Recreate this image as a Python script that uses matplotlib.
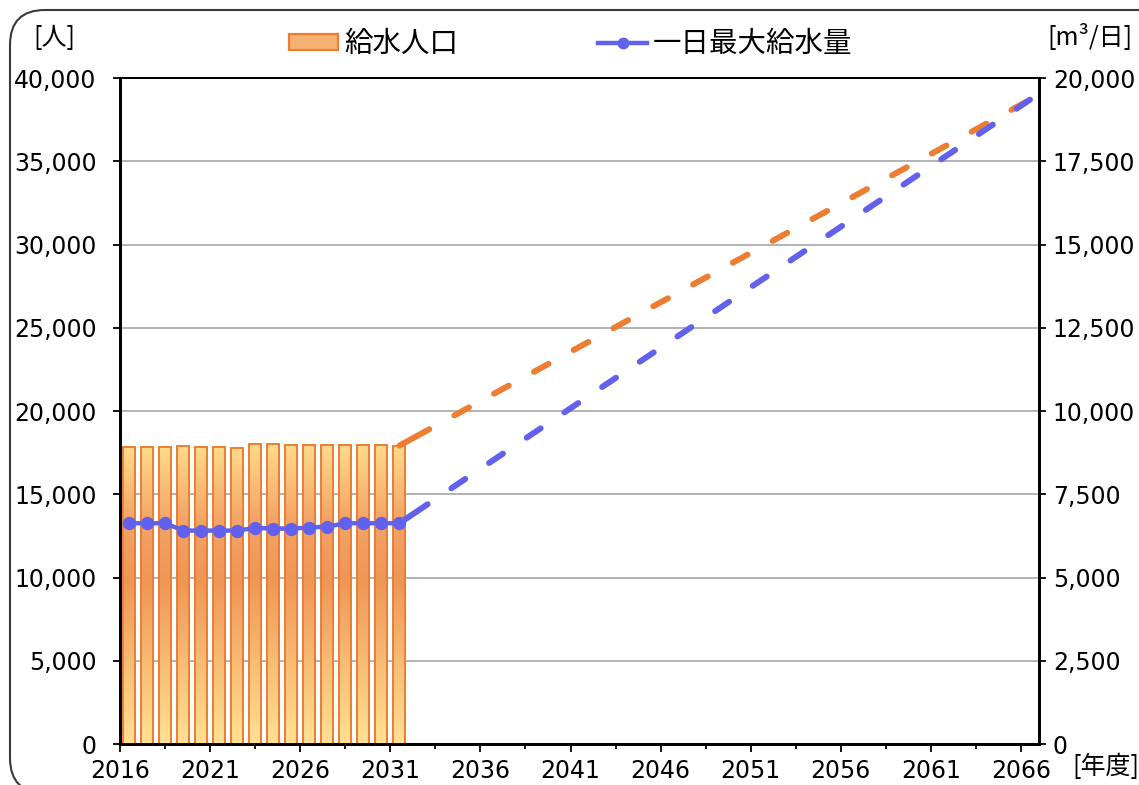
"""Water supply population and daily maximum supply chart."""

import numpy as np
import matplotlib

matplotlib.use("Agg")
import matplotlib.pyplot as plt
from matplotlib.colors import LinearSegmentedColormap
from matplotlib.patches import FancyBboxPatch, Patch
from matplotlib.lines import Line2D
from matplotlib.transforms import IdentityTransform

plt.rcParams["font.family"] = ["Noto Sans CJK JP", "DejaVu Sans"]
plt.rcParams["axes.unicode_minus"] = False

# data
years = list(range(2016, 2032))
population = [17840, 17820, 17820, 17900, 17860, 17860, 17800, 18040,
              18000, 17980, 17980, 17960, 17960, 17940, 17940, 17920]
max_water = [6630, 6630, 6630, 6410, 6410, 6410, 6410, 6490,
             6470, 6470, 6500, 6530, 6630, 6630, 6630, 6630]
proj_years = [2031, 2066]
proj_population = [17920, 38700]
proj_water = [6630, 19350]
label_years = list(range(2016, 2067, 5))
left_ticks = list(range(0, 40001, 5000))
right_ticks = list(range(0, 20001, 2500))

START = 2016
END = 2066
ORANGE = "#ED7D31"
BLUE = "#6161EE"
NUM_FONT = "DejaVu Sans"
# long first dash, then regular dashes (units of line width)
DASHES = [5.7, 4.8] + [2.8, 4.8] * 20


def xpos(yrs):
    return np.asarray(yrs) - START + 0.5


fig = plt.figure(figsize=(11.39, 7.85), dpi=100)
ax = fig.add_axes([0.1054, 0.0522, 0.8068, 0.8484])
ax2 = ax.twinx()

# bars with vertical gradient
cmap = LinearSegmentedColormap.from_list(
    "bar", [(0.0, "#FFE194"), (0.55, "#EF9655"), (0.75, "#F3A468"), (1.0, "#FFDB8C")]
)
grad = np.linspace(0, 1, 256).reshape(-1, 1)
bars = ax.bar(xpos(years), population, width=0.68, facecolor="none",
              edgecolor=ORANGE, linewidth=1.4, zorder=3)
for bar in bars:
    x0 = bar.get_x()
    w = bar.get_width()
    h = bar.get_height()
    im = ax.imshow(grad, extent=[x0, x0 + w, 0, h], origin="lower",
                   cmap=cmap, aspect="auto", zorder=2)
    im.set_clip_path(bar)

ax.plot(xpos(proj_years), proj_population, color=ORANGE, lw=4.3,
        dashes=DASHES, dash_capstyle="round", zorder=4)

ax2.plot(xpos(years), max_water, color=BLUE, lw=3.2, marker="o", ms=8.6,
         zorder=5)
ax2.plot(xpos(proj_years), proj_water, color=BLUE, lw=4.3,
         dashes=DASHES, dash_capstyle="round", zorder=5)

ax.set_xlim(0, END - START + 1)
ax.set_ylim(0, 40000)
ax2.set_ylim(0, 20000)

ax.set_xticks([y - START for y in label_years])
ax.set_xticklabels([str(y) for y in label_years], family=NUM_FONT)
ax.set_xticks([y - START + 2.5 for y in label_years[:-1]], minor=True)
ax.set_yticks(left_ticks)
ax.set_yticklabels([f"{v:,}" for v in left_ticks], family=NUM_FONT)
ax2.set_yticks(right_ticks)
ax2.set_yticklabels([f"{v:,}" for v in right_ticks], family=NUM_FONT)

ax.grid(True, axis="y", color="#A6A6A6", linewidth=1.2, zorder=0)
ax.set_axisbelow(True)

ax.tick_params(axis="x", which="major", length=6, width=1.3, pad=5,
               labelsize=17, direction="out")
ax.tick_params(axis="x", which="minor", length=3.5, width=1.3)
ax.tick_params(axis="y", length=5, width=1.3, pad=12, labelsize=17)
ax2.tick_params(axis="y", length=5, width=1.3, pad=5, labelsize=17)

for a in (ax, ax2):
    for side in ("left", "right", "bottom"):
        a.spines[side].set_linewidth(2)
        a.spines[side].set_color("black")
    a.spines["top"].set_linewidth(1.3)

# unit labels
fig.text(33 / 1139, 1 - 38 / 785, "[人]", fontsize=18, ha="left", va="center")
fig.text(1133 / 1139, 1 - 38 / 785, "[m³/日]", fontsize=18, ha="right",
         va="center")
fig.text(1139 / 1139, 1 - 767 / 785, "[年度]", fontsize=18, ha="right",
         va="center")

# legend
handles = [
    Patch(facecolor="#F6B273", edgecolor=ORANGE, linewidth=1.6),
    Line2D([], [], color=BLUE, lw=3.2, marker="o", ms=7.5),
]
fig.legend(handles, ["給水人口", "一日最大給水量"], loc="center",
           bbox_to_anchor=(0.501, 1 - 44 / 785), ncol=2, frameon=False,
           fontsize=20.5, handlelength=1.75, handletextpad=0.2,
           columnspacing=4.9, handleheight=0.5)

# rounded frame around the chart
frame = FancyBboxPatch((10, -8), 1165, 783, boxstyle="round,pad=0,rounding_size=35",
                       transform=IdentityTransform(), facecolor="none",
                       edgecolor="#3A3A3A", linewidth=1.5)
fig.patches.append(frame)

plt.savefig("out.png", dpi=100)
plt.close()
